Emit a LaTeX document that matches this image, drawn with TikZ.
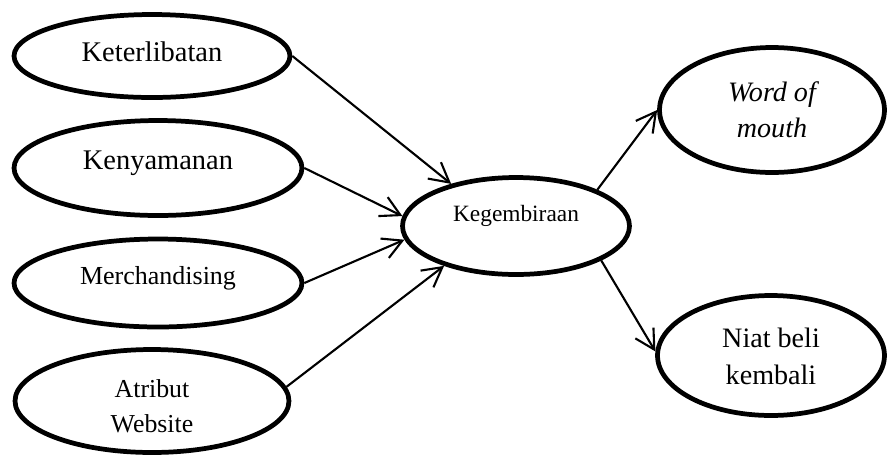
\documentclass[tikz,border=0pt]{standalone}
\usepackage{fontspec}
\setmainfont{Liberation Serif}
\usetikzlibrary{arrows.meta,shapes.geometric}

\begin{document}
\begin{tikzpicture}[x=0.02cm, y=0.02cm,
    var/.style={ellipse, draw=black, line width=2.7pt, inner sep=0pt, align=center},
    link/.style={black, line width=1.2pt, -{Straight Barb[length=11pt,width=12pt]}}]
                \useasboundingbox (0,0) rectangle (887,-461);
                % left side
                \node [var, minimum width=5.52cm, minimum height=1.66cm, text height=11pt, text depth=4.6pt,
                       font=\fontsize{16.2}{21}\selectfont] (ket) at (152,-56) {Keterlibatan};
                \node [var, minimum width=5.76cm, minimum height=1.9cm, text height=11pt, text depth=8.8pt,
                       font=\fontsize{16.2}{21}\selectfont] (ken) at (158,-168) {Kenyamanan};
                \node [var, minimum width=5.76cm, minimum height=1.76cm, text height=11pt, text depth=9.5pt,
                       font=\fontsize{14.8}{20}\selectfont] (mer) at (158,-283) {Merchandising};
                \node [var, minimum width=5.48cm, minimum height=2.06cm, text height=36.3pt, text depth=0pt,
                       font=\fontsize{14.7}{20}\selectfont] (atr) at (152,-401) {Atribut\\Website};
                % middle
                \node [var, minimum width=4.54cm, minimum height=1.94cm, text height=11pt, text depth=15.8pt,
                       font=\fontsize{13.3}{17}\selectfont] (keg) at (516,-226) {Kegembiraan};
                % right side
                \node [var, minimum width=4.5cm, minimum height=2.5cm, text height=31.8pt, text depth=0pt,
                       font=\fontsize{16}{20.5}\selectfont\itshape] (wom) at (772,-110) {Word of\\mouth};
                \node [var, minimum width=4.54cm, minimum height=2.4cm, text height=33.4pt, text depth=0pt,
                       font=\fontsize{16}{21.5}\selectfont] (niat) at (771,-355.5) {Niat beli\\kembali};
                % arrows
                \draw [link] (ket.east) -- (keg.147);
                \draw [link] (ken.east) -- (keg.175);
                \draw [link] (mer.east) -- (keg.187);
                \draw [link] (atr.6) -- (keg.209);
                \draw [link] (keg.24) -- (wom.west);
                \draw [link] (keg.-22) -- (niat.178);
\end{tikzpicture}
\end{document}
